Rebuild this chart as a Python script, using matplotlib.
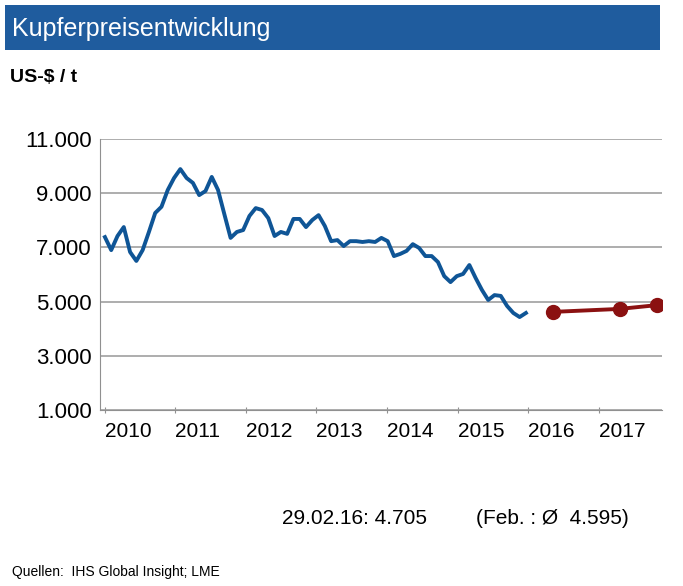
import numpy as np
import matplotlib
matplotlib.use("Agg")
import matplotlib.pyplot as plt
from matplotlib.patches import Rectangle

prices = [7380,6900,7420,7750,6830,6500,6900,7570,8270,8500,9120,9560,9890,9560,9380,8930,9080,9600,9120,8230,
          7350,7570,7640,8160,8450,8380,8080,7420,7570,7500,8050,8050,7750,8010,8190,7790,7230,7270,7050,7230,
          7230,7200,7230,7200,7350,7230,6680,6760,6870,7120,6980,6680,6680,6460,5940,5720,5940,6020,6350,5870,
          5430,5060,5240,5210,4840,4580,4430,4580]
forecast_years = [2016.35, 2017.3, 2017.83]
forecast_vals = [4620, 4730, 4870]
years = [2010, 2011, 2012, 2013, 2014, 2015, 2016, 2017]
yticks = [1000, 3000, 5000, 7000, 9000, 11000]
ytick_labels = ["1.000", "3.000", "5.000", "7.000", "9.000", "11.000"]

plt.rcParams["font.family"] = "Liberation Sans"
fig = plt.figure(figsize=(6.83, 5.86), dpi=100)
fig.patches.append(Rectangle((5/683, 1-50/586), 655/683, 45/586, transform=fig.transFigure,
                             facecolor="#1F5C9E", edgecolor="none"))
fig.text(12/683, 1-29/586, "Kupferpreisentwicklung", color="white", fontsize=18, va="center")
fig.text(10/683, 1-78/586, "US-$ / t", fontsize=14, fontweight="bold", va="center")

ax = fig.add_axes([100/683, 1-410/586, 562/683, 271/586])
t = np.linspace(2010.0, 2015.97, len(prices))
ax.plot(t, prices, color="#0F5596", lw=2.8, zorder=3)
ax.plot(forecast_years, forecast_vals, color="#8B1111", lw=2.8, marker="o", ms=10, zorder=3)
ax.set_xlim(2009.93, 2017.9)
ax.set_ylim(1000, 11000)
ax.set_yticks(yticks)
ax.set_yticklabels(ytick_labels, fontsize=16)
ax.set_xticks(years)
ax.set_xticklabels([str(y) for y in years], fontsize=15)
for lbl in ax.get_xticklabels():
    lbl.set_horizontalalignment("left")
ax.grid(axis="y", color="#A0A0A0", lw=1.2)
ax.set_axisbelow(True)
for s in ["top", "right"]:
    ax.spines[s].set_visible(False)
for s in ["left", "bottom"]:
    ax.spines[s].set_color("#909090")
ax.tick_params(axis="both", length=0, pad=6)
ax.tick_params(axis="x", length=5, direction="inout", color="#909090")

fig.text(282/683, 1-518/586, "29.02.16: 4.705", fontsize=15, va="center")
fig.text(476/683, 1-518/586, "(Feb. : Ø  4.595)", fontsize=15, va="center")
fig.text(12/683, 1-572/586, "Quellen:  IHS Global Insight; LME", fontsize=10, va="center")
fig.savefig("out.png", dpi=100)
